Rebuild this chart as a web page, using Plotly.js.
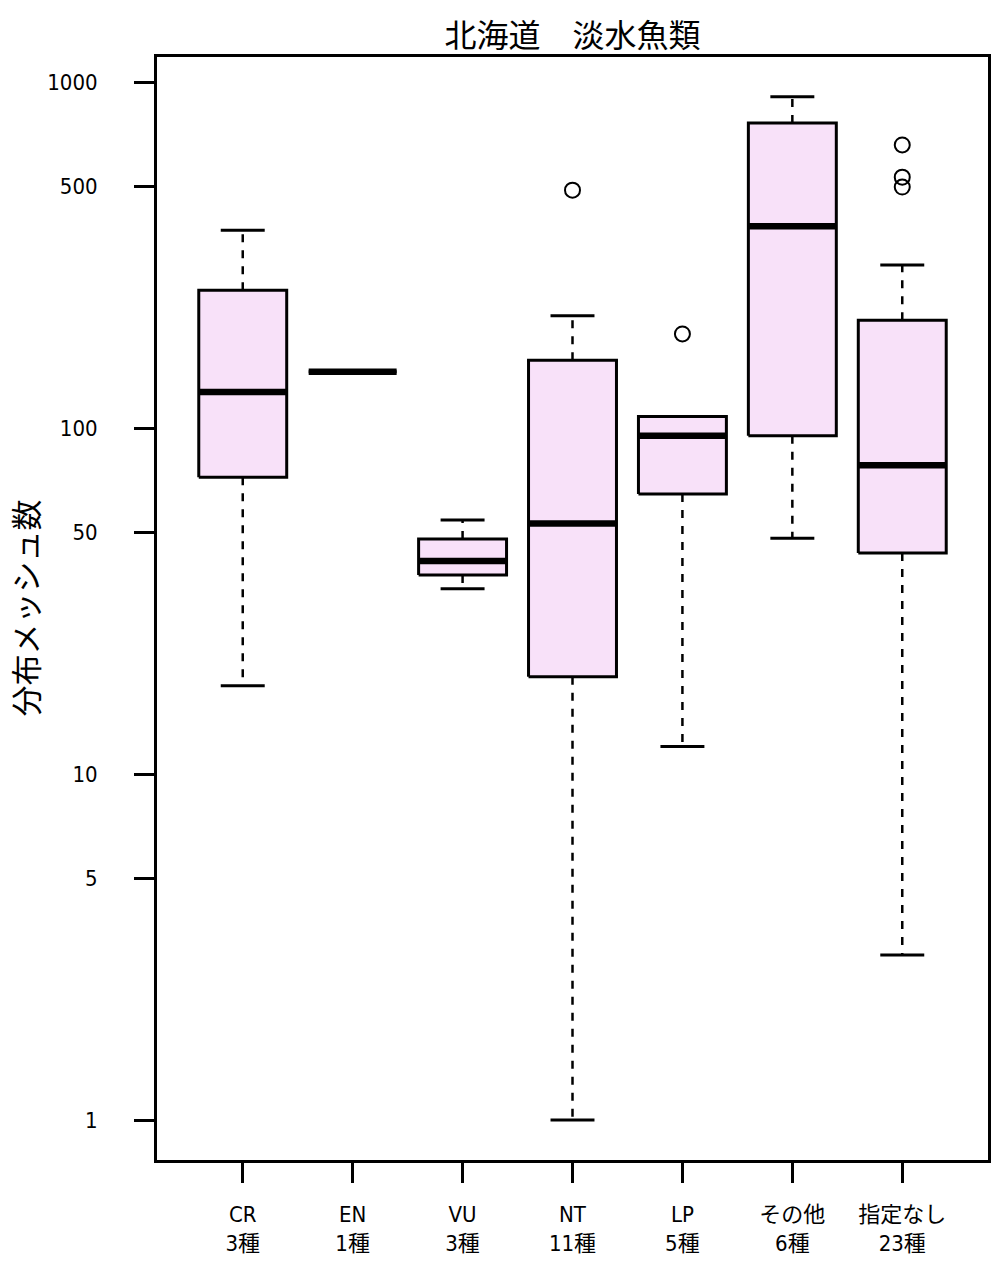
<!DOCTYPE html>
<html>
<head>
<meta charset="utf-8">
<script src="https://cdn.plot.ly/plotly-3.0.1.min.js"></script>
<style>
  body { margin: 0; background: #fff; }
  #plot { width: 1004px; height: 1266px; }
</style>
</head>
<body>
<div id="plot"></div>
<script>
let categories = ["CR", "EN", "VU", "NT", "LP", "その他", "指定なし"];
let counts = [3, 1, 3, 11, 5, 6, 23];

let lowerWhisker = [18, 145.5, 34.3, 1, 12, 48, 3];
let q1 = [72, 145.5, 37.6, 19.1, 64.5, 95, 43.5];
let medians = [127, 145.5, 41.3, 53, 95, 383, 78];
let q3 = [250, 145.5, 47.8, 157, 108, 761, 205];
let upperWhisker = [373, 145.5, 54.2, 211, 108, 906, 296];

// outliers: group number (1 = CR ...) and value
let outlierGroup = [4, 5, 7, 7, 7];
let outlierValues = [487, 187, 658, 531, 497];

let yTicks = [1, 5, 10, 50, 100, 500, 1000];

let boxFill = "#F8E1F9";
let halfBox = 0.4;
let halfStaple = 0.2;

let traces = [];

// dashed whiskers + staples
let wx = [], wy = [];
let sx = [], sy = [];
categories.forEach((c, k) => {
  let i = k + 1;
  wx.push(i, i, null, i, i, null);
  wy.push(q3[k], upperWhisker[k], null, q1[k], lowerWhisker[k], null);
  sx.push(i - halfStaple, i + halfStaple, null, i - halfStaple, i + halfStaple, null);
  sy.push(upperWhisker[k], upperWhisker[k], null, lowerWhisker[k], lowerWhisker[k], null);
});
traces.push({
  x: wx, y: wy, mode: "lines", hoverinfo: "skip",
  line: { color: "black", width: 2.5, dash: "8px,8px" }
});
traces.push({
  x: sx, y: sy, mode: "lines", hoverinfo: "skip",
  line: { color: "black", width: 3 }
});

// boxes
categories.forEach((c, k) => {
  let i = k + 1;
  traces.push({
    x: [i - halfBox, i + halfBox, i + halfBox, i - halfBox, i - halfBox],
    y: [q1[k], q1[k], q3[k], q3[k], q1[k]],
    mode: "lines", fill: "toself", fillcolor: boxFill,
    line: { color: "black", width: 3 }, hoverinfo: "skip"
  });
});

// medians
let mx = [], my = [];
categories.forEach((c, k) => {
  let i = k + 1;
  mx.push(i - halfBox, i + halfBox, null);
  my.push(medians[k], medians[k], null);
});
traces.push({
  x: mx, y: my, mode: "lines", hoverinfo: "skip",
  line: { color: "black", width: 6.5 }
});

// outliers
traces.push({
  x: outlierGroup, y: outlierValues, mode: "markers",
  marker: { symbol: "circle-open", size: 15, color: "black", line: { width: 2 } }
});

let tickFont = {
  family: "Liberation Sans Narrow, DejaVu Sans Condensed, Noto Sans CJK JP, sans-serif",
  size: 22, color: "black"
};

let layout = {
  width: 1004,
  height: 1266,
  showlegend: false,
  paper_bgcolor: "white",
  plot_bgcolor: "white",
  margin: { l: 157, r: 16, t: 57, b: 106 },
  title: {
    text: "北海道　淡水魚類",
    font: { family: "Noto Sans CJK JP", size: 32, color: "black" },
    x: 0.5, xref: "paper", xanchor: "center",
    y: 1 - 36 / 1266, yref: "container", yanchor: "middle"
  },
  xaxis: {
    range: [0.22, 7.78],
    tickvals: categories.map((c, k) => k + 1),
    ticktext: categories.map((c, k) => c + "<br>" + counts[k] + "種"),
    ticks: "outside", ticklen: 20, tickwidth: 3, tickcolor: "black",
    ticklabelstandoff: 13,
    showline: true, linewidth: 3, linecolor: "black", mirror: true,
    showgrid: false, zeroline: false,
    tickfont: tickFont
  },
  yaxis: {
    type: "log",
    range: [-0.1156, 3.0723],
    tickvals: yTicks,
    ticktext: yTicks.map(String),
    ticks: "outside", ticklen: 20, tickwidth: 3, tickcolor: "black",
    ticklabelstandoff: 32,
    showline: true, linewidth: 3, linecolor: "black", mirror: true,
    showgrid: false, zeroline: false,
    tickfont: tickFont
  },
  // y axis title, placed as in the original (far left of the tick labels)
  annotations: [{
    text: "分布メッシュ数",
    font: { family: "Noto Sans CJK JP", size: 31, color: "black" },
    textangle: -90,
    xref: "paper", yref: "paper",
    x: (24 - 157) / 831, y: 0.5,
    xanchor: "center", yanchor: "middle",
    showarrow: false
  }]
};

Plotly.newPlot("plot", traces, layout, { staticPlot: true });
</script>
</body>
</html>
